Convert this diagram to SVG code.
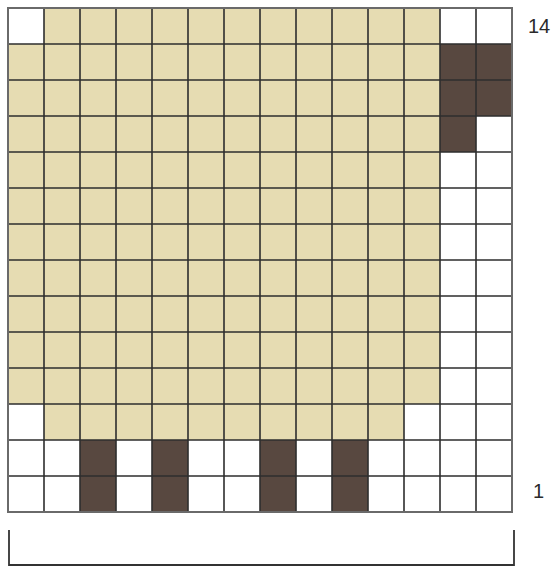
<svg xmlns="http://www.w3.org/2000/svg" width="557" height="567" viewBox="0 0 557 567">
<defs>
<style>
.t{fill:#e6dcb2}
.d{fill:#584840}
.g{stroke:#2e2e2e;stroke-width:1.6;fill:none}
.b{stroke:#6a6a6a;stroke-width:2;fill:none}
.lbl{font-family:"Liberation Sans",Arial,sans-serif;font-size:20px;fill:#2a2a2a}
</style>
</defs>
<rect width="557" height="567" fill="#fff"/>
<g id="fills">
<rect class="t" x="44" y="8" width="396" height="36"/>
<rect class="t" x="8" y="44" width="432" height="360"/>
<rect class="t" x="44" y="404" width="360" height="36"/>
<rect class="d" x="440" y="44" width="72" height="72"/>
<rect class="d" x="440" y="116" width="36" height="36"/>
<rect class="d" x="80" y="440" width="36" height="72"/>
<rect class="d" x="152" y="440" width="36" height="72"/>
<rect class="d" x="260" y="440" width="36" height="72"/>
<rect class="d" x="332" y="440" width="36" height="72"/>
</g>
<g id="grid-lines">
<path class="g" d="M44 8V512M80 8V512M116 8V512M152 8V512M188 8V512M224 8V512M260 8V512M296 8V512M332 8V512M368 8V512M404 8V512M440 8V512M476 8V512"/>
<path class="g" d="M8 44H512M8 80H512M8 116H512M8 152H512M8 188H512M8 224H512M8 260H512M8 296H512M8 332H512M8 368H512M8 404H512M8 440H512M8 476H512"/>
<rect class="b" x="8" y="8" width="504" height="504"/>
</g>
<g id="labels">
<text class="lbl" x="528" y="33">14</text>
<text class="lbl" x="533" y="498">1</text>
</g>
<g id="connectors">
<path d="M9 530V565H514V530" stroke="#333" stroke-width="1.8" fill="none"/>
</g>
</svg>
